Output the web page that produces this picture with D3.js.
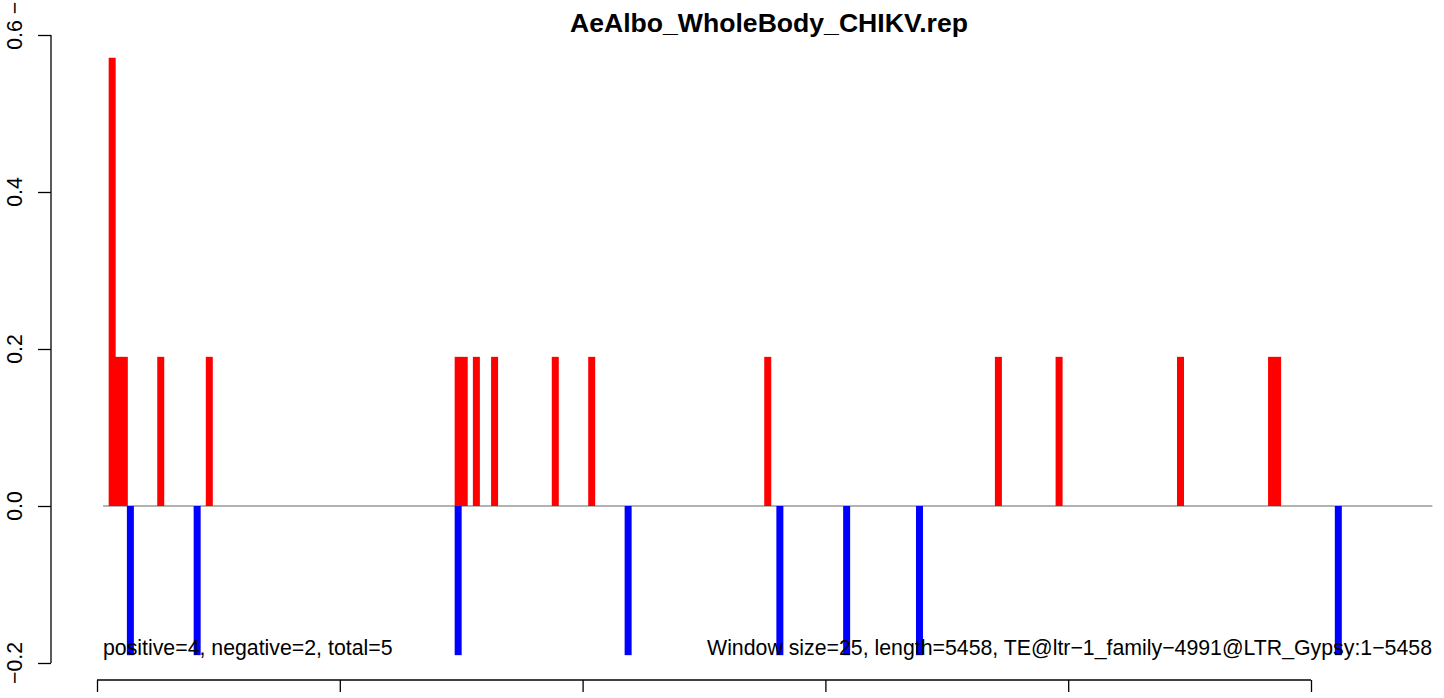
<!DOCTYPE html>
<html>
<head>
<meta charset="utf-8">
<script src="https://cdn.jsdelivr.net/npm/d3@7"></script>
<style>
  html, body { margin: 0; padding: 0; background: #fff; }
  svg { display: block; font-family: "Liberation Sans", Arial, Helvetica, sans-serif; }
</style>
</head>
<body>
<svg id="chart" width="1444" height="698"></svg>
<script>
// ---- data ----
const title = "AeAlbo_WholeBody_CHIKV.rep";
const windowSize = 25;
const seqLength = 5458;
// window midpoints (bp) and values of positive (red) bars
const posWindows = [62.5, 87.5, 112.5, 262.5, 462.5, 1487.5, 1512.5, 1562.5, 1637.5, 1887.5, 2037.5, 2762.5, 3712.5, 3962.5, 4462.5, 4837.5, 4862.5];
const posValues  = [0.571, 0.19, 0.19, 0.19, 0.19, 0.19, 0.19, 0.19, 0.19, 0.19, 0.19, 0.19, 0.19, 0.19, 0.19, 0.19, 0.19];
// window midpoints (bp) and values of negative (blue) bars
const negWindows = [137.5, 412.5, 1487.5, 2187.5, 2812.5, 3087.5, 3387.5, 5112.5];
const negValues  = [-0.19, -0.19, -0.19, -0.19, -0.19, -0.19, -0.19, -0.19];
const xTicks = [0, 1000, 2000, 3000, 4000, 5000];
const yTicks = [-0.2, 0.0, 0.2, 0.4, 0.6];
const yTickLabels = ["\u22120.2", "0.0", "0.2", "0.4", "0.6"];
const baselineRange = [25, 5500];
const leftNote = "positive=4, negative=2, total=5";
const rightNote = "Window size=25, length=5458, TE@ltr\u22121_family\u22124991@LTR_Gypsy:1\u22125458";

// ---- layout ----
const svg = d3.select("#chart");
const x = d3.scaleLinear().domain([0, 5000]).range([97, 1311]);
const y = d3.scaleLinear().domain([-0.2, 0.6]).range([663, 35]);
const barW = 7;
const fontSize = 21.3;

// baseline at zero
svg.append("line")
  .attr("x1", x(baselineRange[0])).attr("x2", x(baselineRange[1]))
  .attr("y1", y(0)).attr("y2", y(0))
  .attr("stroke", "#9a9a9a").attr("stroke-width", 1.5);

// positive bars
svg.append("g").selectAll("rect")
  .data(posWindows.map((w, i) => ({w, v: posValues[i]})))
  .join("rect")
  .attr("x", d => x(d.w) - barW / 2)
  .attr("width", barW)
  .attr("y", d => y(d.v))
  .attr("height", d => y(0) - y(d.v))
  .attr("fill", "#ff0000");

// negative bars
svg.append("g").selectAll("rect")
  .data(negWindows.map((w, i) => ({w, v: negValues[i]})))
  .join("rect")
  .attr("x", d => x(d.w) - barW / 2)
  .attr("width", barW)
  .attr("y", y(0))
  .attr("height", d => y(d.v) - y(0))
  .attr("fill", "#0000ff");

// y axis
const yAxis = svg.append("g")
  .attr("transform", "translate(51,0)")
  .call(d3.axisLeft(y).tickValues(yTicks).tickSize(13).tickSizeOuter(0).tickFormat(""));
yAxis.select(".domain").remove();
yAxis.selectAll(".tick line").attr("stroke", "#000").attr("stroke-width", 1.3);
yAxis.append("line")
  .attr("x1", 0).attr("x2", 0)
  .attr("y1", y(yTicks[0])).attr("y2", y(yTicks[yTicks.length - 1]))
  .attr("stroke", "#000").attr("stroke-width", 1.3);

svg.append("g").selectAll("text")
  .data(yTicks.map((t, i) => ({t, label: yTickLabels[i]})))
  .join("text")
  .attr("transform", d => `translate(22,${y(d.t)}) rotate(-90)`)
  .attr("text-anchor", "middle")
  .attr("font-size", fontSize)
  .attr("fill", "#000")
  .text(d => d.label);

// stray dash at top-left seen in the reference
svg.append("text")
  .attr("transform", `translate(22,${y(0.6) - 27}) rotate(-90)`)
  .attr("text-anchor", "middle")
  .attr("font-size", fontSize)
  .text("\u2212");

// x axis (labels fall outside the picture)
const xAxis = svg.append("g")
  .attr("transform", "translate(0,680)")
  .call(d3.axisBottom(x).tickValues(xTicks).tickSize(12).tickSizeOuter(0).tickFormat(""));
xAxis.select(".domain").remove();
xAxis.selectAll(".tick line").attr("stroke", "#000").attr("stroke-width", 1.3);
xAxis.append("line")
  .attr("x1", x(xTicks[0])).attr("x2", x(xTicks[xTicks.length - 1]))
  .attr("y1", 0).attr("y2", 0)
  .attr("stroke", "#000").attr("stroke-width", 1.3);

// title
svg.append("text")
  .attr("x", 769).attr("y", 32)
  .attr("text-anchor", "middle")
  .attr("font-size", 26.6)
  .attr("font-weight", "bold")
  .text(title);

// notes
svg.append("text")
  .attr("x", 103).attr("y", 655)
  .attr("font-size", fontSize)
  .text(leftNote);
svg.append("text")
  .attr("x", 1432).attr("y", 655)
  .attr("text-anchor", "end")
  .attr("font-size", fontSize)
  .text(rightNote);
</script>
</body>
</html>
